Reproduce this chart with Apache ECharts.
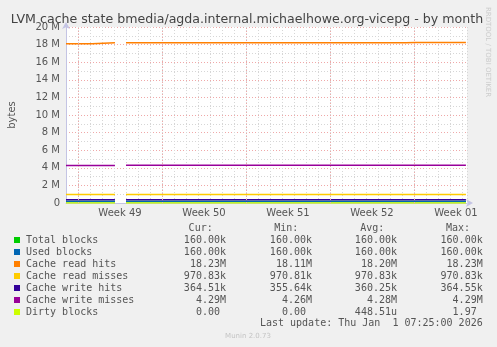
<!DOCTYPE html>
<html>
<head>
<meta charset="utf-8">
<script src="https://cdn.jsdelivr.net/npm/echarts@6/dist/echarts.min.js"></script>
<style>
  html, body { margin: 0; padding: 0; background: #f0f0f0; }
  #chart { width: 497px; height: 347px; }
</style>
</head>
<body>
<div id="chart"></div>
<script>
// Time in days from Sun 30 Nov 2025 00:00; null marks the hole in the samples.
const times = [0, 2.17, 4.08, 4.081, 5.0, 28.3, 29.14, 33.33];

const totalBlocks      = [160000, 160000, 160000, null, 160000, 160000, 160000, 160000];
const usedBlocks       = [160000, 160000, 160000, null, 160000, 160000, 160000, 160000];
const cacheReadHits    = [18110000, 18200000, 18200000, null, 18200000, 18230000, 18230000, 18230000];
const cacheReadMisses  = [970810, 970830, 970830, null, 970830, 970830, 970830, 970830];
const cacheWriteHits   = [355640, 357000, 357000, null, 360000, 362000, 364510, 364510];
const cacheWriteMisses = [4260000, 4270000, 4270000, null, 4280000, 4280000, 4290000, 4290000];
const dirtyBlocks      = [0, 0, 0, null, 0, 0, 0, 0];

const seriesNames  = ['Total blocks', 'Used blocks', 'Cache read hits', 'Cache read misses',
                      'Cache write hits', 'Cache write misses', 'Dirty blocks'];
const seriesValues = [totalBlocks, usedBlocks, cacheReadHits, cacheReadMisses,
                      cacheWriteHits, cacheWriteMisses, dirtyBlocks];
const seriesColors = ['#00cc00', '#0066b3', '#ff8000', '#ffcc00', '#330099', '#990099', '#ccff00'];

// Summary table: Cur / Min / Avg / Max
const curValues = ['160.00k', '160.00k', '18.23M', '970.83k', '364.51k', '4.29M', '0.00 '];
const minValues = ['160.00k', '160.00k', '18.11M', '970.81k', '355.64k', '4.26M', '0.00 '];
const avgValues = ['160.00k', '160.00k', '18.20M', '970.83k', '360.25k', '4.28M', '448.51u'];
const maxValues = ['160.00k', '160.00k', '18.23M', '970.83k', '364.55k', '4.29M', '1.97 '];

// Week boundaries (Mondays) and the mid-week positions that carry the labels
const weekStarts  = [1, 8, 15, 22, 29];
const weekMiddles = [4.5, 11.5, 18.5, 25.5, 32.5];
const weekLabels  = ['Week 49', 'Week 50', 'Week 51', 'Week 52', 'Week 01'];

const X_MAX = 33.42;
const MONO = 'DejaVu Sans Mono';
const SANS = 'DejaVu Sans';
const MAJOR_GRID = '#f0a8a8';
const MINOR_GRID = '#d6d6d6';

const chart = echarts.init(document.getElementById('chart'), null, { renderer: 'canvas' });

// Weekly boundary lines, placed through the x scale
const weekLines = {
  name: 'weeks',
  type: 'line',
  xAxisIndex: 1,
  data: [],
  silent: true,
  animation: false,
  z: 1,
  markLine: {
    silent: true,
    symbol: ['none', 'none'],
    label: { show: false },
    animation: false,
    lineStyle: { color: MAJOR_GRID, width: 1, type: [1, 2] },
    data: weekStarts.map((d) => ({ xAxis: d }))
  }
};

const series = [weekLines].concat(seriesNames.map((name, i) => ({
  name: name,
  type: 'line',
  xAxisIndex: 1,
  step: 'end',
  showSymbol: false,
  connectNulls: false,
  animation: false,
  z: 3,
  lineStyle: { color: seriesColors[i], width: 1.5 },
  itemStyle: { color: seriesColors[i] },
  data: times.map((t, k) => [t, seriesValues[i][k]])
})));

// Legend and summary table drawn as text
const graphics = [];
const rowY0 = 240, rowStep = 12;
const colRight = [226, 312, 397, 482.7];
const headRight = [212.7, 298.3, 384.3, 470];
['Cur:', 'Min:', 'Avg:', 'Max:'].forEach((h, c) => {
  graphics.push({ type: 'text', x: headRight[c], y: 228,
    style: { text: h, font: '10px "' + MONO + '"', fill: '#555', align: 'right', verticalAlign: 'middle' } });
});
seriesNames.forEach((name, i) => {
  const y = rowY0 + i * rowStep;
  graphics.push({ type: 'rect', shape: { x: 14, y: y - 3, width: 6, height: 6 },
    style: { fill: seriesColors[i] } });
  graphics.push({ type: 'text', x: 26, y: y,
    style: { text: name, font: '10px "' + MONO + '"', fill: '#555', align: 'left', verticalAlign: 'middle' } });
  [curValues, minValues, avgValues, maxValues].forEach((col, c) => {
    graphics.push({ type: 'text', x: colRight[c], y: y,
      style: { text: col[i], font: '10px "' + MONO + '"', fill: '#555', align: 'right', verticalAlign: 'middle' } });
  });
});
graphics.push({ type: 'text', x: 482.7, y: 323.7,
  style: { text: 'Last update: Thu Jan  1 07:25:00 2026', font: '10px "' + MONO + '"', fill: '#555', align: 'right', verticalAlign: 'middle' } });
graphics.push({ type: 'text', x: 248, y: 335.7,
  style: { text: 'Munin 2.0.73', font: '7px "' + SANS + '"', fill: '#c4c4c4', align: 'center', verticalAlign: 'middle' } });
graphics.push({ type: 'text', x: 247, y: 19.5,
  style: { text: 'LVM cache state bmedia/agda.internal.michaelhowe.org-vicepg - by month', font: '12.6px "' + SANS + '"', fill: '#444', align: 'center', verticalAlign: 'middle' } });
graphics.push({ type: 'text', x: 487.5, y: 52, rotation: -Math.PI / 2,
  style: { text: 'RRDTOOL / TOBI OETIKER', font: '7px "' + SANS + '"', fill: '#cccccc', align: 'center', verticalAlign: 'middle' } });

chart.setOption({
  backgroundColor: '#f0f0f0',
  animation: false,
  grid: { left: 66, top: 27, width: 401, height: 176, show: true, backgroundColor: '#ffffff',
          borderWidth: 0, containLabel: false, outerBoundsMode: 'none' },
  xAxis: [
    { // daily grid
      type: 'value', min: 0, max: X_MAX, interval: 1,
      axisLine: { show: false }, axisTick: { show: false }, axisLabel: { show: false },
      splitLine: { show: true, lineStyle: { color: MINOR_GRID, width: 1, type: [1, 2] } }
    },
    { // week labels
      type: 'value', min: 0, max: X_MAX, position: 'bottom',
      axisLine: { show: true, lineStyle: { color: '#c4c4e4', width: 1 },
                  symbol: ['none', 'arrow'], symbolSize: [6, 7], symbolOffset: [0, 6] },
      axisTick: { show: false },
      axisLabel: {
        customValues: weekMiddles, margin: 5, fontSize: 10, fontFamily: SANS, color: '#555',
        formatter: (v) => { const k = weekMiddles.indexOf(v); return k >= 0 ? weekLabels[k] : ''; }
      },
      splitLine: { show: false }
    }
  ],
  yAxis: {
    type: 'value', min: 0, max: 20000000, interval: 2000000,
    name: 'bytes', nameLocation: 'middle', nameGap: 49, nameRotate: 90,
    nameTextStyle: { fontSize: 10, fontFamily: SANS, color: '#555' },
    axisLine: { show: true, lineStyle: { color: '#c4c4e4', width: 1 },
                symbol: ['none', 'arrow'], symbolSize: [6, 7], symbolOffset: [0, 5] },
    axisTick: { show: false },
    axisLabel: { margin: 6, fontSize: 10, fontFamily: SANS, color: '#555',
                 formatter: (v) => v === 0 ? '0' : (v / 1000000) + ' M' },
    splitLine: { show: true, lineStyle: { color: MAJOR_GRID, width: 1, type: [1, 2] } },
    minorTick: { show: false, splitNumber: 2 },
    minorSplitLine: { show: true, lineStyle: { color: MINOR_GRID, width: 1, type: [1, 2] } }
  },
  graphic: graphics,
  series: series
});
</script>
</body>
</html>
